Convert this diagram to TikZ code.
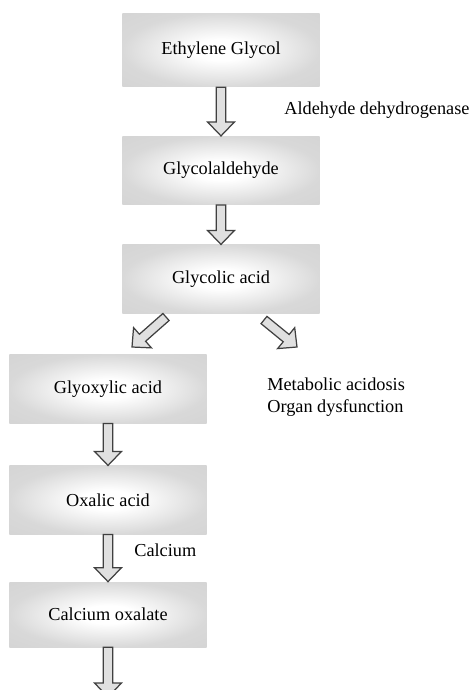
\documentclass[tikz,border=0pt]{standalone}
\usepackage{fontspec}
\setmainfont{Liberation Serif}
\usetikzlibrary{positioning, calc}

\pgfdeclareradialshading{glow}{\pgfpoint{0bp}{0bp}}{color(0bp)=(white); color(7bp)=(white); color(25bp)=(black!15); color(50bp)=(black!19)}

\tikzset{
	box/.style={shade, shading=glow, minimum width=3.95cm, minimum height=1.37cm, inner sep=0pt, font=\fontsize{10.4}{12.5}\selectfont},
	lbl/.style={inner sep=0pt, font=\fontsize{10.4}{12.5}\selectfont},
	fat/.style={draw=black!75, fill=black!12, line width=0.7pt, line join=miter, to path={
		($(\tikztostart)!0.094cm!90:(\tikztotarget)$)
		-- ($(\tikztotarget)!0.28cm!(\tikztostart)!0.094cm!-90:(\tikztostart)$)
		-- ($(\tikztotarget)!0.28cm!(\tikztostart)!0.27cm!-90:(\tikztostart)$)
		-- (\tikztotarget)
		-- ($(\tikztotarget)!0.28cm!(\tikztostart)!0.27cm!90:(\tikztostart)$)
		-- ($(\tikztotarget)!0.28cm!(\tikztostart)!0.094cm!90:(\tikztostart)$)
		-- ($(\tikztostart)!0.094cm!-90:(\tikztotarget)$) -- cycle}}
}

\begin{document}
\begin{tikzpicture}[x=0.02cm, y=-0.02cm]
		\clip (0,0) rectangle (473,690);
		\node[box, minimum height=1.48cm] (eg) at (221,50) {Ethylene Glycol};
		\node[box] (ga) at (221,170.5) {Glycolaldehyde};
		\node[box] (gc) at (221,279) {Glycolic acid};
		\node[box] (gx) at (108,389) {Glyoxylic acid};
		\node[box] (ox) at (108,500) {Oxalic acid};
		\node[box, minimum height=1.3cm] (co) at (108,614.5) {Calcium oxalate};

		\node[lbl, anchor=west] (enz) at (284,110) {Aldehyde dehydrogenase};
		\node[lbl, anchor=west, align=left] (fx) at (267,397) {Metabolic acidosis\\Organ dysfunction};
		\node[lbl, anchor=west] (ca) at (134,550) {Calcium};

		\coordinate (l0) at (166,317);
		\coordinate (l1) at (132,347);
		\coordinate (r0) at (264,320);
		\coordinate (r1) at (297,347);
		\coordinate (out) at (108,697);

		\draw[fat] (eg.south) to (ga.north);
		\draw[fat] (ga.south) to (gc.north);
		\draw[fat] (l0) to (l1);
		\draw[fat] (r0) to (r1);
		\draw[fat] (gx.south) to (ox.north);
		\draw[fat] (ox.south) to (co.north);
		\draw[fat] (co.south) to (out);
	\end{tikzpicture}
\end{document}
